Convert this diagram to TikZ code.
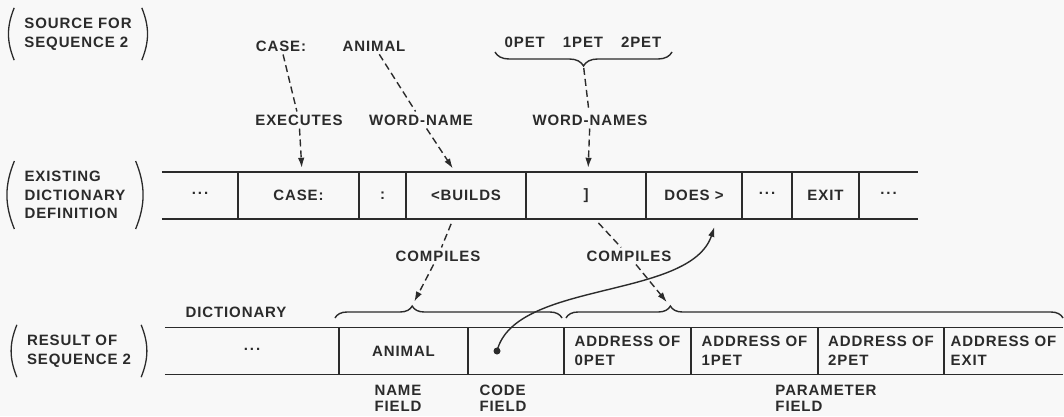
\documentclass[tikz,border=0pt]{standalone}
\usepackage{fontspec}
\setmainfont{Liberation Sans}[LetterSpace=6]
\usetikzlibrary{arrows.meta,decorations.pathreplacing,positioning}
\definecolor{ink}{HTML}{2B2B2B}
\definecolor{paper}{HTML}{F8F8F8}
\newcommand{\gap}{\raisebox{3.5pt}{.\hspace{2pt}.\hspace{2pt}.}}
\tikzset{
  lbl/.style={font=\fontsize{15}{18.5}\selectfont\bfseries, text=ink, inner sep=3pt, align=center},
  wcell/.style={lbl, minimum height=47pt, inner sep=0pt},
  parenlbl/.style={lbl, align=left, inner xsep=10pt, inner ysep=10pt},
  fldlbl/.style={lbl, align=left, font=\fontsize{15}{16}\selectfont\bfseries},
  paren/.style={ink, line width=1.3pt},
  rowline/.style={ink, line width=1.5pt},
  dashlink/.style={ink, line width=1.4pt, dash pattern=on 7pt off 4pt},
  arrowhd/.style={-{Latex[length=10pt,width=6.5pt]}},
  bracebar/.style={ink, line width=1.4pt, decorate},
}
\begin{document}
\begin{tikzpicture}[x=1pt,y=-1pt]
  \fill[paper] (0,0) rectangle (1064,416); \useasboundingbox (0,0) rectangle (1064,416);
  % row labels
  \node[parenlbl] (srclbl) at (78,34) {SOURCE FOR\\SEQUENCE 2};
  \node[parenlbl] (exlbl) at (75,195) {EXISTING\\DICTIONARY\\DEFINITION};
  \node[parenlbl] (reslbl) at (79,351) {RESULT OF\\SEQUENCE 2};
  \foreach \p in {srclbl,exlbl,reslbl} \draw[paren] (\p.north west) to[bend right=22] (\p.south west) (\p.north east) to[bend left=22] (\p.south east);
  % existing definition
  \foreach \nm/\xa/\xb/\txt in {d1/162/238/{\gap}, case/238/359/{CASE:}, colon/359/406/{:}, builds/406/526/{<BUILDS}, brk/526/646/{]}, does/646/742/{DOES >}, d2/742/792/{\gap}, exit/792/859/{EXIT}, d3/859/918/{\gap}}
    \node[wcell, minimum width={\xb-\xa}] (\nm) at ({(\xa+\xb)/2},195.5) {\txt};
  \draw[rowline] (d1.north west) -- (d3.north east) (d1.south west) -- (d3.south east);
  \foreach \c in {d1,case,colon,builds,brk,does,d2,exit} \draw[rowline] (\c.north east) -- (\c.south east);
  % result
  \foreach \nm/\xa/\xb/\txt in {bd/165/339/{\gap}, animal/339/468/{ANIMAL}, code/468/564/{}, a0/564/691/{ADDRESS OF\\0PET}, a1/691/818/{ADDRESS OF\\1PET}, a2/818/944/{ADDRESS OF\\2PET}, aexit/944/1063/{ADDRESS OF\\EXIT}}
    \node[wcell, align=left, minimum width={\xb-\xa}] (\nm) at ({(\xa+\xb)/2},351) {\txt};
  \draw[rowline] (bd.north west) -- (aexit.north east) (bd.south west) -- (aexit.south east);
  \foreach \c in {bd,animal,code,a0,a1,a2} \draw[rowline] (\c.north east) -- (\c.south east);
  % source words and labels
  \node[lbl] (casesrc) at (281,46) {CASE:}; \node[lbl] (animalsrc) at (374,46) {ANIMAL};
  \node[lbl] (pets) at (583,42) {0PET\hspace{18pt}1PET\hspace{18pt}2PET};
  \node[lbl] (execlbl) at (299,120) {EXECUTES}; \node[lbl] (wnlbl) at (421,120) {WORD-NAME}; \node[lbl] (wnslbl) at (590,120) {WORD-NAMES};
  \node[lbl] (compa) at (438,256) {COMPILES}; \node[lbl] (compb) at (629,256) {COMPILES};
  \node[lbl] (dictlbl) at (236,312) {DICTIONARY};
  \node[fldlbl] (namefld) at (398,398) {NAME\\FIELD}; \node[fldlbl] (codefld) at (503,398) {CODE\\FIELD}; \node[fldlbl] (parfld) at (826,398) {PARAMETER\\FIELD};
  % braces
  \draw[bracebar, decoration={brace, mirror, amplitude=14pt}] (495,52) -- (672,52); \coordinate (petstip) at (583.5,66);
  \draw[bracebar, decoration={brace, amplitude=12pt, aspect=0.34}] (335,318) -- (562,318); \coordinate (tipa) at (412,306);
  \draw[bracebar, decoration={brace, amplitude=12pt, aspect=0.21}] (566,318) -- (1063,318); \coordinate (tipb) at (670,306);
  % connectors
  \draw[dashlink] (casesrc) -- (execlbl); \draw[dashlink, arrowhd, shorten >=4pt] (execlbl) -- ([xshift=3.5pt]case.north);
  \draw[dashlink] (animalsrc) -- (wnlbl); \draw[dashlink, arrowhd, shorten >=4pt] (wnlbl) -- ([xshift=-11pt]builds.north);
  \draw[dashlink, shorten <=2pt] (petstip) -- (wnslbl); \draw[dashlink, arrowhd, shorten >=4pt] (wnslbl) -- ([xshift=2pt]brk.north);
  \draw[dashlink, shorten <=5pt] ([xshift=-13pt]builds.south) -- (compa); \draw[dashlink, arrowhd, shorten >=5pt] (compa) -- (tipa);
  \draw[dashlink, shorten <=5pt] ([xshift=9pt]brk.south) -- (compb); \draw[dashlink, arrowhd, shorten >=5pt] (compb) -- (tipb);
  \node[fill=ink, circle, inner sep=0pt, minimum size=7pt] (ptr) at ([xshift=-19pt]code.center) {};
  \draw[ink, line width=1.4pt, arrowhd, shorten >=8pt] (ptr.center) .. controls (515,280) and (690,300) .. ([xshift=23pt]does.south);
\end{tikzpicture}
\end{document}
